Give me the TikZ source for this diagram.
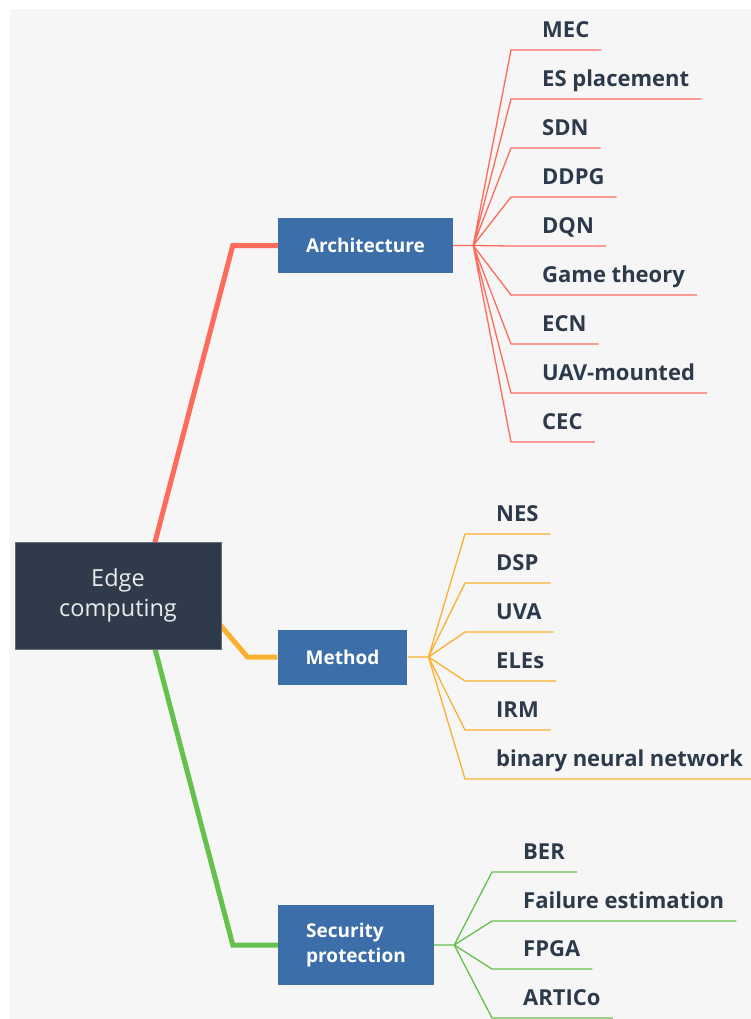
\documentclass[tikz,border=0pt]{standalone}
\usepackage{fontspec}
\setmainfont{Open Sans}
\usetikzlibrary{positioning, calc, backgrounds}
\definecolor{MapBack}{HTML}{F6F6F6}
\definecolor{MapRoot}{HTML}{2F3B4A}
\definecolor{MapTopic}{HTML}{3C6EAA}
\definecolor{MapInk}{HTML}{2C3A4B}
\definecolor{MapRed}{HTML}{FF6B5B}
\definecolor{MapOrange}{HTML}{FCB02F}
\definecolor{MapGreen}{HTML}{66C04E}
\tikzset{
    % Central topic
    root node/.style={
        rectangle,
        fill=MapRoot,
        draw=MapRoot!75!white,
        line width=0.5pt,
        text=white!90!MapRoot,
        minimum width=206pt,
        minimum height=107pt,
        inner sep=0pt,
        align=center,
        font=\fontsize{23.5}{30}\selectfont
    },
    % Main topics
    topic node/.style={
        rectangle,
        fill=MapTopic,
        text=white,
        inner xsep=28pt,
        minimum height=55pt,
        align=left,
        font=\fontsize{19}{25}\selectfont\bfseries
    },
    % Subtopics sitting on their underline
    leaf node/.style={
        anchor=south west,
        text=MapInk,
        inner xsep=12pt,
        inner ysep=7pt,
        text height=16pt,
        text depth=5pt,
        font=\fontsize{22}{26}\selectfont\bfseries
    },
    main branch/.style={
        line width=5pt
    },
    sub branch/.style={
        line width=1.3pt
    }
}
\begin{document}
\begin{tikzpicture}[x=1pt, y=-1pt]
    \useasboundingbox (0,0) rectangle (751,1019);

    % Central topic
    \node[root node] (root) at (118,595.5) {Edge\\computing};

    % Main topics
    \node[topic node, minimum width=175pt] (arch) at (365.5,245.5) {Architecture};
    \node[topic node, minimum width=129pt] (meth) at (342.5,657) {Method};
    \node[topic node, minimum width=156pt, minimum height=80pt] (secu) at (356,945) {Security\\protection};

    % Architecture subtopics
    \node[leaf node] (mec) at (530,50) {MEC};
    \node[leaf node] (esp) at (530,99) {ES placement};
    \node[leaf node] (sdn) at (530,148) {SDN};
    \node[leaf node] (ddpg) at (530,197) {DDPG};
    \node[leaf node] (dqn) at (530,246) {DQN};
    \node[leaf node] (game) at (530,295) {Game theory};
    \node[leaf node] (ecn) at (530,344) {ECN};
    \node[leaf node] (uav) at (530,393) {UAV-mounted};
    \node[leaf node] (cec) at (530,442) {CEC};

    % Method subtopics
    \node[leaf node] (nes) at (484,534) {NES};
    \node[leaf node] (dsp) at (484,583) {DSP};
    \node[leaf node] (uva) at (484,632) {UVA};
    \node[leaf node] (eles) at (484,681) {ELEs};
    \node[leaf node] (irm) at (484,730) {IRM};
    \node[leaf node] (bnn) at (484,779) {binary neural network};

    % Security subtopics
    \node[leaf node] (ber) at (511,872) {BER};
    \node[leaf node] (fail) at (511,921) {Failure estimation};
    \node[leaf node] (fpga) at (511,969) {FPGA};
    \node[leaf node] (artico) at (511,1018) {ARTICo};

    % Fan points
    \coordinate (archfan) at ([xshift=20pt]arch.east);
    \coordinate (methfan) at ([xshift=21pt]meth.east);
    \coordinate (secufan) at ([xshift=20pt]secu.east);
    \coordinate (hub) at ([xshift=23pt]root.center);
    \coordinate (hubm) at ([xshift=77pt]root.center);

    \begin{scope}[on background layer]
        \fill[MapBack] (10,9) rectangle (751,1019);

        % Main branches
        \draw[main branch, MapRed] (hub) -- ([xshift=-45pt]arch.west) -- (arch.west);
        \draw[main branch, MapOrange] (hubm) -- ([xshift=-30pt]meth.west) -- (meth.west);
        \draw[main branch, MapGreen] (hub) -- ([xshift=-45pt]secu.west) -- (secu.west);

        % Architecture fan
        \draw[sub branch, MapRed] (arch.east) -- (archfan)
            (archfan) -- ([xshift=-19pt]mec.south west) -- (mec.south east)
            (archfan) -- ([xshift=-19pt]esp.south west) -- (esp.south east)
            (archfan) -- ([xshift=-19pt]sdn.south west) -- (sdn.south east)
            (archfan) -- ([xshift=-19pt]ddpg.south west) -- (ddpg.south east)
            (archfan) -- ([xshift=-19pt]dqn.south west) -- (dqn.south east)
            (archfan) -- ([xshift=-19pt]game.south west) -- (game.south east)
            (archfan) -- ([xshift=-19pt]ecn.south west) -- (ecn.south east)
            (archfan) -- ([xshift=-19pt]uav.south west) -- (uav.south east)
            (archfan) -- ([xshift=-19pt]cec.south west) -- (cec.south east);

        % Method fan
        \draw[sub branch, MapOrange] (meth.east) -- (methfan)
            (methfan) -- ([xshift=-19pt]nes.south west) -- (nes.south east)
            (methfan) -- ([xshift=-19pt]dsp.south west) -- (dsp.south east)
            (methfan) -- ([xshift=-19pt]uva.south west) -- (uva.south east)
            (methfan) -- ([xshift=-19pt]eles.south west) -- (eles.south east)
            (methfan) -- ([xshift=-19pt]irm.south west) -- (irm.south east)
            (methfan) -- ([xshift=-19pt]bnn.south west) -- (bnn.south east);

        % Security fan
        \draw[sub branch, MapGreen] (secu.east) -- (secufan)
            (secufan) -- ([xshift=-19pt]ber.south west) -- (ber.south east)
            (secufan) -- ([xshift=-19pt]fail.south west) -- (fail.south east)
            (secufan) -- ([xshift=-19pt]fpga.south west) -- (fpga.south east)
            (secufan) -- ([xshift=-19pt]artico.south west) -- (artico.south east);
    \end{scope}
\end{tikzpicture}
\end{document}
